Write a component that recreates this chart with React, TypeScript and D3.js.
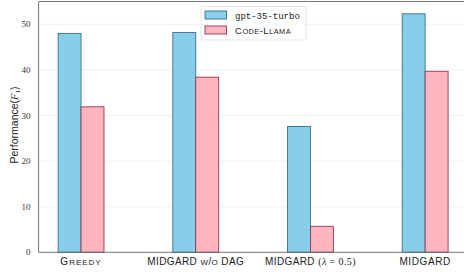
import React from "react";
import * as d3 from "d3";

const categories = ["Greedy", "MIDGARD w/o DAG", "MIDGARD lambda", "MIDGARD"];
const gptValues = [48.0, 48.2, 27.6, 52.3];
const llamaValues = [31.9, 38.4, 5.7, 39.7];
const yTicks = [0, 10, 20, 30, 40, 50];

const W = 464;
const H = 273;
const BLUE = "#87CEEB";
const BLUE_EDGE = "#3d6f88";
const PINK = "#FFB6C1";
const PINK_EDGE = "#8a3a4e";
const SANS = "'Liberation Sans', Arial, sans-serif";
const SERIF = "'Liberation Serif', 'DejaVu Serif', serif";
const MONO = "'Liberation Mono', 'DejaVu Sans Mono', monospace";

function XLabel({ i, x, y }: { i: number; x: number; y: number }) {
  const fs = 10;
  const sc = 8;
  const common = { x, y, textAnchor: "middle" as const, fontFamily: SANS, fontSize: fs, fill: "#222" };
  if (i === 0) {
    return (
      <text {...common} letterSpacing={1}>
        G<tspan fontSize={sc}>REEDY</tspan>
      </text>
    );
  }
  if (i === 1) {
    return (
      <text {...common} letterSpacing={0.4}>
        MIDGARD <tspan fontSize={sc}>W</tspan>/<tspan fontSize={sc}>O</tspan> DAG
      </text>
    );
  }
  if (i === 2) {
    return (
      <text {...common} letterSpacing={0.4}>
        MIDGARD <tspan fontFamily={SERIF}>(</tspan>
        <tspan fontFamily={SERIF} fontStyle="italic">λ</tspan>
        <tspan fontFamily={SERIF}> = 0.5)</tspan>
      </text>
    );
  }
  return (
    <text {...common} letterSpacing={0.6}>
      MIDGARD
    </text>
  );
}

export default function App() {
  const x = d3.scaleLinear().domain([-0.37, 3.37]).range([38.6, 467.6]);
  const y = d3.scaleLinear().domain([0, 55]).range([252.3, 1.5]);
  const bw = 0.2;
  const left = x(-0.37);
  const bottom = y(0);
  const top = y(55);

  return (
    <svg
      width={W}
      height={H}
      style={{ position: "absolute", left: 0, top: 0, background: "#fff" }}
    >
      {yTicks.filter((t) => t > 0).map((t) => (
        <line key={"g" + t} x1={left} x2={W} y1={y(t)} y2={y(t)} stroke="#ececec" strokeWidth={0.8} />
      ))}
      {categories.map((c, i) => (
        <g key={c}>
          <rect
            x={x(i - bw)}
            y={y(gptValues[i])}
            width={x(i) - x(i - bw)}
            height={bottom - y(gptValues[i])}
            fill={BLUE}
            stroke={BLUE_EDGE}
            strokeWidth={0.9}
          />
          <rect
            x={x(i)}
            y={y(llamaValues[i])}
            width={x(i + bw) - x(i)}
            height={bottom - y(llamaValues[i])}
            fill={PINK}
            stroke={PINK_EDGE}
            strokeWidth={0.9}
          />
        </g>
      ))}
      <line x1={left} x2={left} y1={top} y2={bottom} stroke="#666" strokeWidth={0.9} />
      <line x1={left} x2={W} y1={top} y2={top} stroke="#666" strokeWidth={0.9} />
      <line x1={left} x2={W} y1={bottom} y2={bottom} stroke="#666" strokeWidth={0.9} />
      {yTicks.map((t) => (
        <text
          key={"t" + t}
          x={30.5}
          y={y(t) + 3}
          textAnchor="end"
          fontFamily={SERIF}
          fontSize={9}
          fill="#333"
        >
          {t}
        </text>
      ))}
      <text
        transform={`translate(18,125) rotate(-90)`}
        textAnchor="middle"
        fontFamily={SANS}
        fontSize={10.5}
        fill="#222"
      >
        Performance(<tspan fontFamily={SERIF} fontStyle="italic">F</tspan>
        <tspan fontFamily={SERIF} fontSize={7} dy={2}>1</tspan>
        <tspan dy={-2}>)</tspan>
      </text>
      {categories.map((c, i) => (
        <XLabel key={"x" + c} i={i} x={x(i)} y={265} />
      ))}
      <rect x={201} y={6.5} width={105} height={33.5} rx={2} fill="#fff" fillOpacity={0.85} stroke="#ddd" strokeWidth={0.8} />
      <rect x={205} y={11} width={21.5} height={8} fill={BLUE} stroke={BLUE_EDGE} strokeWidth={0.9} />
      <rect x={205} y={26} width={21.5} height={8} fill={PINK} stroke={PINK_EDGE} strokeWidth={0.9} />
      <text x={235} y={18.5} fontFamily={MONO} fontSize={9} fill="#222">
        gpt-35-turbo
      </text>
      <text x={235} y={33.5} fontFamily={SANS} fontSize={9.5} fill="#222" letterSpacing={0.5}>
        C<tspan fontSize={7.3}>ODE</tspan>-L<tspan fontSize={7.3}>LAMA</tspan>
      </text>
    </svg>
  );
}
